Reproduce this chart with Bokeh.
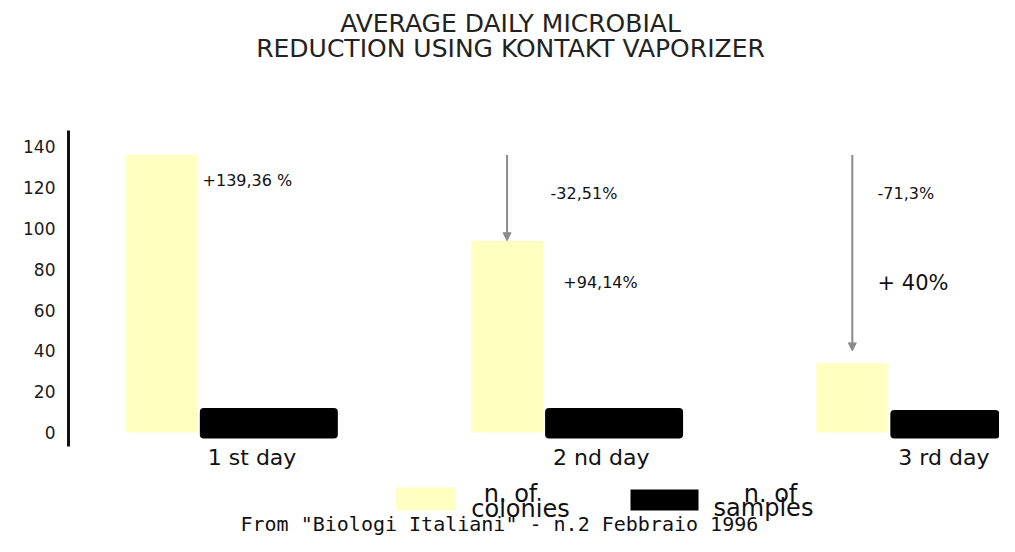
from bokeh.plotting import figure
from bokeh.models import Range1d, FixedTicker, Arrow, NormalHead, ColumnDataSource
from bokeh.core.properties import value
from bokeh.embed import file_html
from bokeh.resources import INLINE

# ---------------- data ----------------
days = ["1 st day", "2 nd day", "3 rd day"]
colonies = [136, 94, 34]          # n. of colonies
samples = [12, 12, 11]            # n. of samples
up_labels = ["+139,36 %", "+94,14%", "+ 40%"]
down_labels = ["", "-32,51%", "-71,3%"]
arrow_from = [136, 136]           # reduction arrows (day 2, day 3)
arrow_to = [94, 40]
y_ticks = [0, 20, 40, 60, 80, 100, 120, 140]
title_lines = ["AVERAGE DAILY MICROBIAL", "REDUCTION USING KONTAKT VAPORIZER"]
legend_names = [["n. of", "colonies"], ["n. of", "samples"]]
source_note = 'From "Biologi Italiani" - n.2 Febbraio 1996'

# ---------------- layout helpers (pixel -> data) ----------------
W, H = 999, 536
LEFT = 68
PXY = 2.04          # pixels per y unit
Y0 = 432            # pixel y of value 0
PXX = 345.25        # pixels per day
X0 = 198.25         # pixel x of day 0 group centre


def vy(py):
    return (Y0 - py) / PXY


def vx(px):
    return (px - X0) / PXX


FONT = value("DejaVu Sans")
YELLOW = "#FFFFC2"

p = figure(width=W, height=H, output_backend="svg", toolbar_location=None,
           x_range=Range1d(vx(LEFT), vx(W)), y_range=Range1d(vy(H), vy(0)),
           min_border_left=LEFT, min_border_right=0, min_border_top=0,
           min_border_bottom=0, x_axis_location=None)
p.outline_line_color = None
p.xgrid.visible = False
p.ygrid.visible = False
p.background_fill_color = "white"
p.border_fill_color = "white"

# y axis
ax = p.yaxis[0]
ax.ticker = FixedTicker(ticks=y_ticks)
ax.bounds = (-7, 148)
ax.axis_line_width = 3
ax.axis_line_color = "#111111"
ax.major_tick_line_color = None
ax.minor_tick_line_color = None
ax.major_label_standoff = 7
ax.major_label_text_font = "DejaVu Sans"
ax.major_label_text_font_size = "17px"
ax.major_label_text_color = "#1a1a1a"

idx = list(range(len(days)))
SAMPLE_W = 0.3997
src = ColumnDataSource(dict(
    x=idx,
    xc=[i - 0.107 for i in idx],
    xs=[i + 0.203 for i in idx],
    xl=[i + 0.203 - SAMPLE_W / 2 + 8 / PXX for i in idx],
    colonies=colonies,
    samples=samples,
    day=days,
    up=up_labels,
    down=down_labels,
))

# bars
p.vbar(x="xc", top="colonies", bottom=0, width=0.2085, source=src,
       fill_color=YELLOW, line_color=None)
p.vbar(x="xs", top="samples", bottom=-3, width=SAMPLE_W, source=src,
       fill_color="black", line_color=None, border_radius=4)

# day labels
p.text(x="xl", y=vy(457), text="day", source=src, text_font=FONT,
       text_font_size="22px", text_align="left", text_baseline="alphabetic",
       text_color="#111111")

# reduction arrows
for k in range(len(arrow_to)):
    d = k + 1
    p.add_layout(Arrow(x_start=d - 0.107, y_start=arrow_from[k],
                       x_end=d - 0.107, y_end=arrow_to[k],
                       line_color="#8c8c8c", line_width=2,
                       end=NormalHead(size=8, fill_color="#8c8c8c",
                                      line_color="#8c8c8c")))

# percentage labels
up_pos = [(0.011, vy(180), "16px"), (0.056, vy(282), "16px"), (-0.034, vy(282), "21px")]
down_pos = [None, (0.019, vy(193), "16px"), (-0.034, vy(193), "16px")]
for i in idx:
    dx, yy, fs = up_pos[i]
    p.text(x=[i + dx], y=[yy], text=[up_labels[i]], text_font=FONT,
           text_font_size=fs, text_baseline="middle", text_align="left",
           text_color="#111111")
    if down_pos[i] is not None and down_labels[i]:
        dx, yy, fs = down_pos[i]
        p.text(x=[i + dx], y=[yy], text=[down_labels[i]], text_font=FONT,
               text_font_size=fs, text_baseline="middle", text_align="left",
               text_color="#111111")

# title
p.text(x=[vx(510), vx(510)], y=[vy(23), vy(48)], text=title_lines,
       text_font=FONT, text_font_size="25px", text_align="center",
       text_baseline="middle", text_color="#222222")

# legend
p.quad(left=[vx(395)], right=[vx(455)], top=[vy(487)], bottom=[vy(510)],
       fill_color=YELLOW, line_color=None)
p.quad(left=[vx(630)], right=[vx(698)], top=[vy(489)], bottom=[vy(510)],
       fill_color="black", line_color=None)
p.text(x=[vx(510), vx(520), vx(770), vx(763)],
       y=[vy(493), vy(508), vy(493), vy(507)],
       text=[legend_names[0][0], legend_names[0][1], legend_names[1][0], legend_names[1][1]],
       text_font=FONT, text_font_size="24px", text_align="center",
       text_baseline="alphabetic", text_color="#111111")

# source note
p.text(x=[vx(240)], y=[vy(535)], text=[source_note],
       text_font=value("DejaVu Sans Mono"), text_font_size="20px",
       text_align="left", text_baseline="bottom", text_color="#111111")

open("out.html", "w").write(file_html(p, INLINE))
